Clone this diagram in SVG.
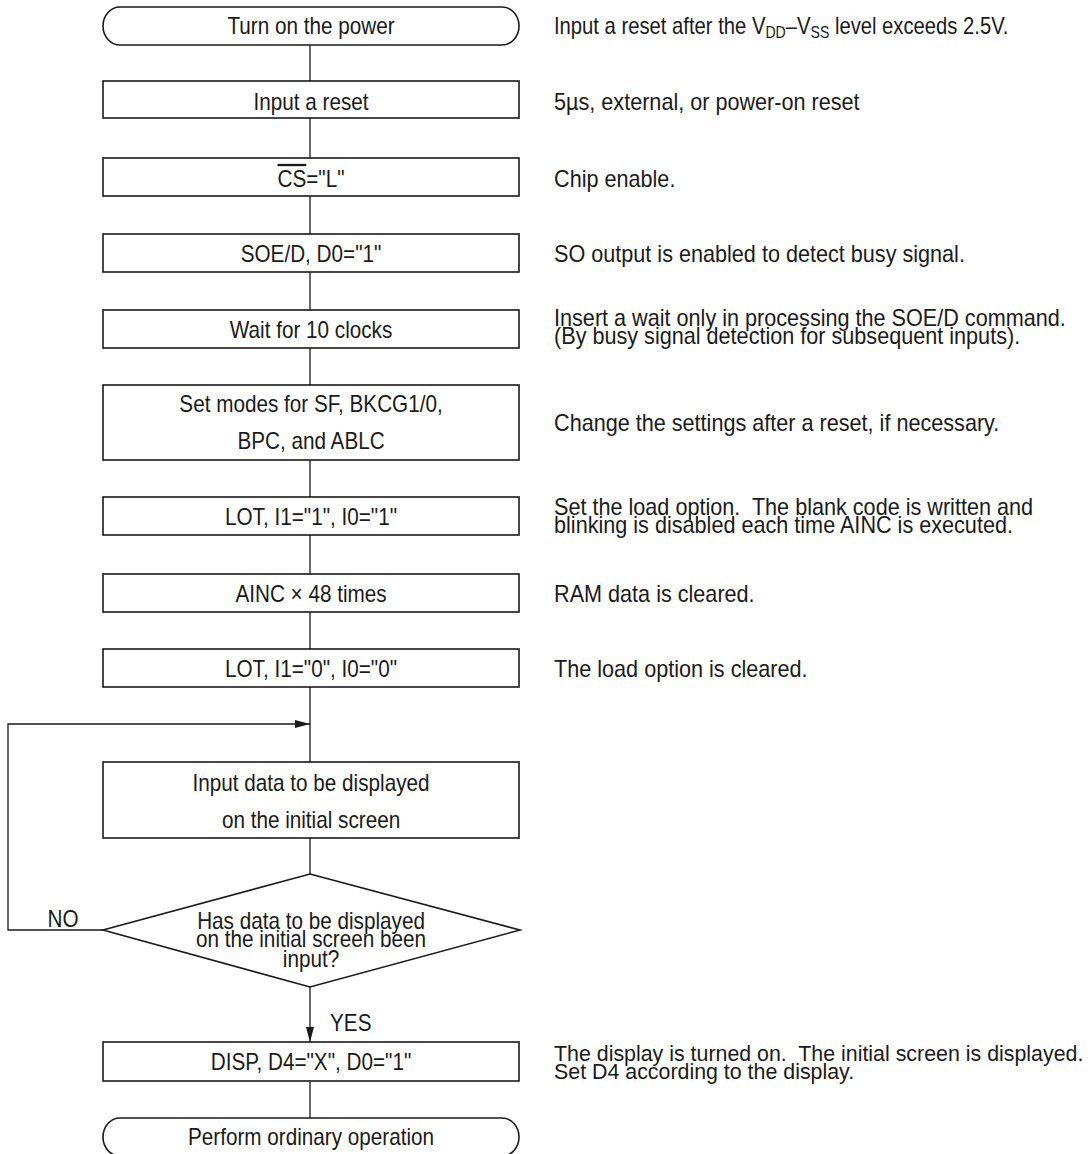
<svg xmlns="http://www.w3.org/2000/svg" width="1091" height="1154" viewBox="0 0 1091 1154">
<defs>
<style>
text{font-family:"Liberation Sans",Arial,sans-serif;font-size:23px;fill:#1a1a1a}
.t{transform:scale(0.9,1)}
.n{transform:scale(0.94,1)}
.n1{transform:scale(0.88,1)}
.n2{transform:scale(0.93,1)}
.c{text-anchor:middle}
.pre{white-space:pre}
.shape{fill:#fff;stroke:#1a1a1a;stroke-width:1.6}
.conn{fill:none;stroke:#1a1a1a;stroke-width:1.3}
.sub{font-size:16px}
</style>
<marker id="arr" viewBox="0 0 15 8" refX="15" refY="4" markerWidth="15" markerHeight="8" markerUnits="userSpaceOnUse" orient="auto">
<path d="M0,0 L15,4 L0,8 Z" fill="#1a1a1a"/>
</marker>
</defs>
<rect width="1091" height="1154" fill="#fff"/>

<g id="connectors">
<line class="conn" x1="310" y1="45" x2="310" y2="81"/>
<line class="conn" x1="310" y1="118" x2="310" y2="158"/>
<line class="conn" x1="310" y1="196" x2="310" y2="234"/>
<line class="conn" x1="310" y1="272" x2="310" y2="310"/>
<line class="conn" x1="310" y1="348" x2="310" y2="385"/>
<line class="conn" x1="310" y1="460" x2="310" y2="497"/>
<line class="conn" x1="310" y1="535" x2="310" y2="574"/>
<line class="conn" x1="310" y1="612" x2="310" y2="649"/>
<line class="conn" x1="310" y1="687" x2="310" y2="762"/>
<line class="conn" x1="310" y1="838" x2="310" y2="874"/>
<polyline class="conn" points="103,930 8,930 8,724 310,724" marker-end="url(#arr)"/>
<line class="conn" x1="310" y1="987" x2="310" y2="1042" marker-end="url(#arr)"/>
<line class="conn" x1="310" y1="1081" x2="310" y2="1118"/>
<text class="t c" x="70" y="927">NO</text>
<text class="t" x="366.7" y="1031">YES</text>
</g>

<g id="n-power">
<path class="shape" d="M120,7 H502 A17,19 0 0 1 502,45 H120 A17,19 0 0 1 120,7 Z"/>
<text class="t c" x="345.6" y="34">Turn on the power</text>
</g>
<g id="n-reset">
<rect class="shape" x="103" y="81" width="416" height="37"/>
<text class="t c" x="345.6" y="110">Input a reset</text>
</g>
<g id="n-cs">
<rect class="shape" x="103" y="158" width="416" height="38"/>
<text class="t c" x="345.6" y="187"><tspan style="text-decoration:overline">CS</tspan>="L"</text>
</g>
<g id="n-soe">
<rect class="shape" x="103" y="234" width="416" height="38"/>
<text class="t c" x="345.6" y="262">SOE/D, D0="1"</text>
</g>
<g id="n-wait">
<rect class="shape" x="103" y="310" width="416" height="38"/>
<text class="t c" x="345.6" y="338">Wait for 10 clocks</text>
</g>
<g id="n-modes">
<rect class="shape" x="103" y="385" width="416" height="75"/>
<text class="t c" x="345.6" y="412">Set modes for SF, BKCG1/0,</text>
<text class="t c" x="345.6" y="449">BPC, and ABLC</text>
</g>
<g id="n-lot1">
<rect class="shape" x="103" y="497" width="416" height="38"/>
<text class="t c" x="345.6" y="525">LOT, I1="1", I0="1"</text>
</g>
<g id="n-ainc">
<rect class="shape" x="103" y="574" width="416" height="38"/>
<text class="t c" x="345.6" y="602">AINC × 48 times</text>
</g>
<g id="n-lot0">
<rect class="shape" x="103" y="649" width="416" height="38"/>
<text class="t c" x="345.6" y="677">LOT, I1="0", I0="0"</text>
</g>
<g id="n-input">
<rect class="shape" x="103" y="762" width="416" height="76"/>
<text class="t c" x="345.6" y="791">Input data to be displayed</text>
<text class="t c" x="345.6" y="828">on the initial screen</text>
</g>
<g id="n-decision">
<polygon class="shape" points="310,874 520,930 310,987 103,930"/>
<text class="t c" x="345.6" y="929">Has data to be displayed</text>
<text class="t c" x="345.6" y="947">on the initial screen been</text>
<text class="t c" x="345.6" y="967">input?</text>
</g>
<g id="n-disp">
<rect class="shape" x="103" y="1042" width="416" height="39"/>
<text class="t c" x="345.6" y="1070">DISP, D4="X", D0="1"</text>
</g>
<g id="n-ordinary">
<path class="shape" d="M120,1118 H502 A17,19 0 0 1 502,1156 H120 A17,19 0 0 1 120,1118 Z"/>
<text class="t c" x="345.6" y="1145">Perform ordinary operation</text>
</g>

<g id="notes">
<text class="n1" x="629.5" y="34">Input a reset after the V<tspan class="sub" dy="4">DD</tspan><tspan dy="-4">–V</tspan><tspan class="sub" dy="4">SS</tspan><tspan dy="-4"> level exceeds 2.5V.</tspan></text>
<text class="n" x="589.4" y="110">5µs, external, or power-on reset</text>
<text class="n" x="589.4" y="187">Chip enable.</text>
<text class="n" x="589.4" y="262">SO output is enabled to detect busy signal.</text>
<text class="n" x="589.4" y="326">Insert a wait only in processing the SOE/D command.</text>
<text class="n" x="589.4" y="344">(By busy signal detection for subsequent inputs).</text>
<text class="n" x="589.4" y="431">Change the settings after a reset, if necessary.</text>
<text class="n pre" x="589.4" y="515">Set the load option.  The blank code is written and</text>
<text class="n" x="589.4" y="533">blinking is disabled each time AINC is executed.</text>
<text class="n" x="589.4" y="602">RAM data is cleared.</text>
<text class="n" x="589.4" y="677">The load option is cleared.</text>
<text class="n2 pre" x="595.7" y="1061">The display is turned on.  The initial screen is displayed.</text>
<text class="n2" x="595.7" y="1079">Set D4 according to the display.</text>
</g>
</svg>
